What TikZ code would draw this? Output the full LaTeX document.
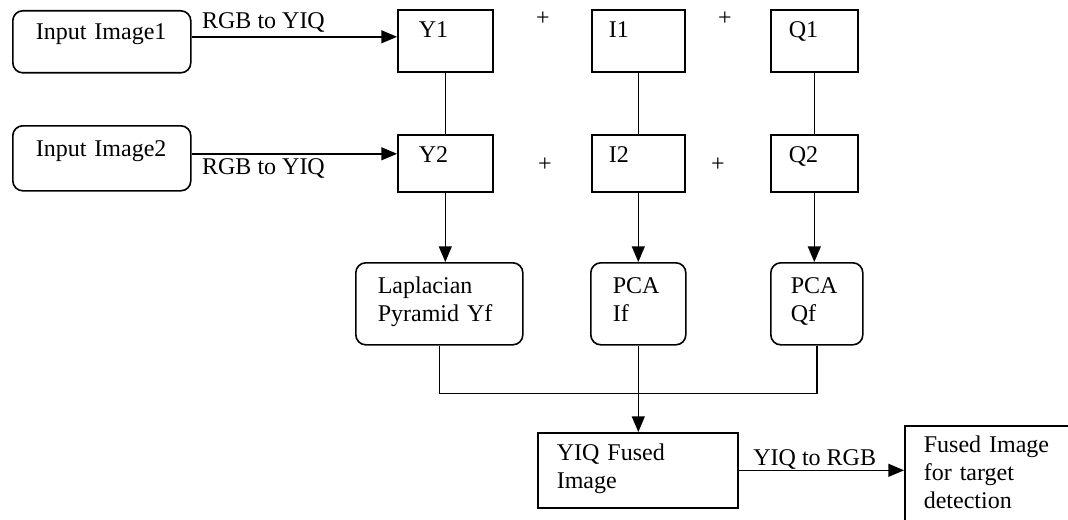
\documentclass[tikz,border=0pt]{standalone}
\usepackage{fontspec}
\setmainfont{Liberation Serif}
\usepackage{tikz}
\usetikzlibrary{arrows, calc, positioning}
\newcommand{\drawl}{\draw[line width=.8pt]}

\begin{document}
\begin{tikzpicture}[>=triangle 45, x=.5pt, y=-.5pt,
  font=\fontsize{12}{14}\selectfont,
  blk/.style={draw, line width=.8pt, anchor=north west, align=left, inner ysep=0pt},
  rblk/.style={blk, rounded corners=5pt},
  lbl/.style={inner sep=2pt}]
%\draw[color=blue] (0,0) grid[step=50] (1068,519); %luoi
\useasboundingbox (0,0) rectangle (1068,519);
% Input images
\node[rblk, inner xsep=11.5pt, text width=66pt, text height=14.5pt, text depth=16.5pt] (in1) at (12,10) {Input Image1};
\node[rblk, inner xsep=11.5pt, text width=66pt, text height=15.5pt, text depth=17pt] (in2) at (12,125) {Input Image2};
% YIQ components
\node[blk, inner xsep=10.5pt, text width=26.5pt, text height=14pt, text depth=17pt] (Y1) at (397,9) {Y1};
\node[blk, inner xsep=8.5pt, text width=29.5pt, text height=14pt, text depth=17pt] (I1) at (591,9) {I1};
\node[blk, inner xsep=9pt, text width=25.5pt, text height=14pt, text depth=17pt] (Q1) at (770,9) {Q1};
\node[blk, inner xsep=10.5pt, text width=26.5pt, text height=14pt, text depth=14.5pt] (Y2) at (397,134) {Y2};
\node[blk, inner xsep=8.5pt, text width=29.5pt, text height=14pt, text depth=14.5pt] (I2) at (591,134) {I2};
\node[blk, inner xsep=9pt, text width=25.5pt, text height=14pt, text depth=14.5pt] (Q2) at (770,134) {Q2};
\node (p1) at (543,19) {+};
\node (p2) at (725,19) {+};
\node (p3) at (545,165) {+};
\node (p4) at (718,165) {+};
% Fusion
\node[rblk, inner xsep=11pt, text width=61.5pt, text height=15.5pt, text depth=25.5pt] (lap) at (355,262) {Laplacian\\Pyramid Yf};
\node[rblk, inner xsep=11pt, text width=25.5pt, text height=15.5pt, text depth=25.5pt] (pcai) at (590,262) {PCA\\If};
\node[rblk, inner xsep=10pt, text width=26pt, text height=15.5pt, text depth=25.5pt] (pcaq) at (770,262) {PCA\\Qf};
\node[blk, inner xsep=9.5pt, text width=81pt, text height=14pt, text depth=23.5pt] (fused) at (537,432) {YIQ Fused\\Image};
\node[blk, inner xsep=9.5pt, text width=120pt, text height=13.5pt, text depth=50pt] (out) at (904,425) {Fused Image\\for target\\detection};
% Connectors
\drawl[->] ([yshift=2.5pt]in1.east) -- ([yshift=2.5pt]in1.east -| Y1.west) node[lbl, above, pos=.35] {RGB to YIQ};
\drawl[->] ([yshift=2.25pt]in2.east) -- ([yshift=2.25pt]in2.east -| Y2.west) node[lbl, below, pos=.35] {RGB to YIQ};
\drawl (Y1) -- (Y2);
\drawl (I1) -- (I2);
\drawl (Q1) -- (Q2);
\drawl[->] (Y2) -- (Y2 |- lap.north);
\drawl[->] (I2) -- (I2 |- pcai.north);
\drawl[->] (Q2) -- (Q2 |- pcaq.north);
\coordinate (bus) at ($(pcai.south)+(0,48)$);
\drawl (lap.south) |- (bus) -| (pcaq.south);
\drawl[->] (pcai) -- (pcai |- fused.north);
\drawl[->] (fused) -- (fused -| out.west) node[lbl, inner sep=0pt, above, pos=.46] {YIQ to RGB};
\end{tikzpicture}
\end{document}
